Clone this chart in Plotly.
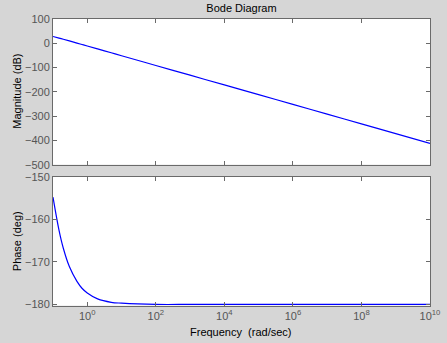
import plotly.graph_objects as go

# Data
freq = [0.1, 0.15, 0.2, 0.3, 0.5, 0.7, 1, 2, 5, 10, 100, 1e3, 1e4, 1e5, 1e6, 1e7, 1e8, 1e9, 1e10]
magnitude_db = [27.0, 20.4, 15.6, 8.7, -0.2, -6.0, -12.2, -24.2, -40.1, -52.2, -92.2, -132.2,
                -172.2, -212.2, -252.2, -292.2, -332.2, -372.2, -412.2]
phase_deg = [-154.8, -162.6, -166.8, -171.1, -174.6, -176.2, -177.3, -178.7, -179.5, -179.7,
             -180.0, -180.0, -180.0, -180.0, -180.0, -180.0, -180.0, -180.0, -180.0]

x_tickvals = [1, 1e2, 1e4, 1e6, 1e8, 1e10]
x_ticktext = ["10<sup>0</sup>", "10<sup>2</sup>", "10<sup>4</sup>", "10<sup>6</sup>",
              "10<sup>8</sup>", "10<sup>10</sup>"]
mag_ticks = [100, 0, -100, -200, -300, -400, -500]
phase_ticks = [-150, -160, -170, -180]

W, H = 447, 343
bg = "#d6d6d6"
frame = "#6a6a6a"
fam = "Liberation Sans, Arial, sans-serif"
tickfont = dict(family=fam, size=11, color="#555555")
labfont = dict(family=fam, size=11, color="black")

fig = go.Figure()
fig.add_trace(go.Scatter(x=freq, y=magnitude_db, mode="lines", line=dict(color="#0000ff", width=1.2),
                         xaxis="x", yaxis="y", showlegend=False, line_shape="spline"))
fig.add_trace(go.Scatter(x=freq, y=phase_deg, mode="lines", line=dict(color="#0000ff", width=1.2),
                         xaxis="x2", yaxis="y2", showlegend=False, line_shape="spline"))

xl, xr = 53 / W, 430 / W
common_x = dict(type="log", range=[-1, 10], domain=[xl, xr], tickvals=x_tickvals,
                ticks="inside", ticklen=4, tickcolor=frame, showline=True, linecolor=frame,
                linewidth=1, mirror="ticks", showgrid=False, zeroline=False, tickfont=tickfont,
                automargin=False)
common_y = dict(ticks="inside", ticklen=4, tickcolor=frame, showline=True, linecolor=frame,
                linewidth=1, mirror="ticks", showgrid=False, zeroline=False, tickfont=tickfont,
                automargin=False)

top_dom = [(H - 164.7) / H, (H - 18.7) / H]
bot_dom = [(H - 305.7) / H, (H - 176.7) / H]

fig.update_layout(
    width=W, height=H,
    margin=dict(l=0, r=0, t=0, b=0, autoexpand=False),
    paper_bgcolor=bg, plot_bgcolor="white",
    xaxis=dict(common_x, anchor="y", showticklabels=False),
    yaxis=dict(common_y, domain=top_dom, range=[-500, 100], tickvals=mag_ticks, anchor="x"),
    xaxis2=dict(common_x, anchor="y2", ticktext=x_ticktext),
    yaxis2=dict(common_y, domain=bot_dom, range=[-180.3, -150], tickvals=phase_ticks, anchor="x2"),
    title=dict(text="Bode Diagram", x=241.5 / W, xanchor="center", y=1 - 8 / H, yanchor="middle",
               font=labfont),
    annotations=[
        dict(text="Magnitude (dB)", textangle=-90, x=17 / W, y=sum(top_dom) / 2,
             xref="paper", yref="paper", showarrow=False, font=labfont,
             xanchor="center", yanchor="middle"),
        dict(text="Phase (deg)", textangle=-90, x=17 / W, y=sum(bot_dom) / 2,
             xref="paper", yref="paper", showarrow=False, font=labfont,
             xanchor="center", yanchor="middle"),
        dict(text="Frequency  (rad/sec)", x=240 / W, y=1 - 332 / H,
             xref="paper", yref="paper", showarrow=False, font=labfont,
             xanchor="center", yanchor="middle"),
    ],
)

fig.write_html("out.html")
